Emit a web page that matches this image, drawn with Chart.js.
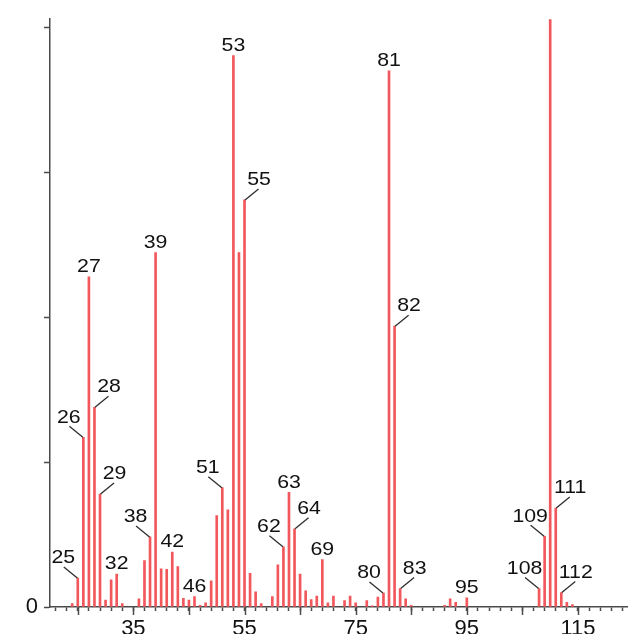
<!DOCTYPE html>
<html>
<head>
<meta charset="utf-8">
<script src="https://cdn.jsdelivr.net/npm/chart.js@4/dist/chart.umd.min.js"></script>
<style>
  html, body { margin: 0; padding: 0; background: #fff; }
  #wrap { width: 628px; height: 634px; position: relative; }
</style>
</head>
<body>
<div id="wrap"><canvas id="spectrum"></canvas></div>
<script>
// m/z positions and relative intensities
const mzValues = [24, 25, 26, 27, 28, 29, 30, 31, 32, 33, 36, 37, 38, 39, 40, 41, 42, 43, 44, 45, 46, 47, 48,
  49, 50, 51, 52, 53, 54, 55, 56, 57, 58, 60, 61, 62, 63, 64, 65, 66, 67, 68, 69, 70, 71, 73, 74, 75,
  77, 78, 79, 80, 81, 82, 83, 84, 85, 91, 92, 93, 95, 108, 109, 110, 111, 112, 113, 114];
const intensities = [0.6, 5.0, 29.3, 57.0, 34.5, 19.5, 1.2, 4.7, 5.7, 0.6, 1.4, 8.0, 12.1, 61.2, 6.6, 6.5, 9.5, 7.0, 1.5, 1.2, 1.8, 0.3, 0.7,
  4.5, 15.8, 20.6, 16.8, 95.2, 61.2, 70.3, 5.8, 2.6, 0.6, 1.8, 7.3, 10.4, 19.8, 13.5, 5.7, 2.8, 1.3, 1.9, 8.2, 0.7, 1.9, 1.1, 1.9, 0.7,
  1.1, 0.2, 1.7, 2.4, 92.6, 48.5, 3.2, 1.4, 0.3, 0.3, 1.4, 0.8, 1.6, 3.2, 12.2, 101.5, 17.1, 2.5, 0.8, 0.4];

// peaks that carry a label, and where the label sits
const labelsAbove = [27, 32, 39, 42, 46, 53, 63, 69, 81, 95];
const labelsLeft = [25, 26, 38, 51, 62, 80, 108, 109];
const labelsRight = [28, 29, 55, 64, 82, 83, 111, 112];

// axis ticks
const yTickValues = [0, 25, 50, 75, 100];
const xTickValues = [];
for (let v = 21; v <= 123; v += 2) xTickValues.push(v);
const xMajorTicks = [25, 35, 45, 55, 65, 75, 85, 95, 105, 115];
const xLabelled = [35, 55, 75, 95, 115];

const axisColor = "#4a4a4a";
const barColor = "#f2575c";
const fontFamily = '"Liberation Sans", Arial, Helvetica, sans-serif';

const points = mzValues.map((mz, i) => ({ x: mz, y: intensities[i] }));

// longer ticks every 10 units on the m/z axis
const majorTicks = {
  id: "majorTicks",
  afterDraw(chart) {
    const { ctx, scales: { x, y } } = chart;
    ctx.save();
    ctx.strokeStyle = axisColor;
    ctx.lineWidth = 1.5;
    xMajorTicks.forEach((v) => {
      const px = Math.round(x.getPixelForValue(v)) + 0.5;
      ctx.beginPath();
      ctx.moveTo(px, y.bottom);
      ctx.lineTo(px, y.bottom + 8);
      ctx.stroke();
    });
    ctx.restore();
  },
};

// peak labels with small leader lines
const peakLabels = {
  id: "peakLabels",
  afterDatasetsDraw(chart) {
    const { ctx, scales: { x, y } } = chart;
    ctx.save();
    ctx.font = "19px " + fontFamily;
    ctx.fillStyle = "#111";
    ctx.strokeStyle = "#2e2e2e";
    ctx.lineWidth = 1.3;
    ctx.textAlign = "center";
    ctx.textBaseline = "middle";
    mzValues.forEach((mz, i) => {
      let side = null;
      if (labelsAbove.includes(mz)) side = 0;
      else if (labelsLeft.includes(mz)) side = -1;
      else if (labelsRight.includes(mz)) side = 1;
      if (side === null) return;
      const px = x.getPixelForValue(mz);
      const py = y.getPixelForValue(intensities[i]);
      let tx = px;
      let ty = py - 10;
      if (side !== 0) {
        ctx.beginPath();
        ctx.moveTo(px + side * 0.5, py);
        ctx.lineTo(px + side * 14, py - 11);
        ctx.stroke();
        tx = px + side * 14.5;
        ty = py - 20;
      }
      ctx.save();
      ctx.translate(tx, ty);
      ctx.scale(1.12, 1);
      ctx.fillText(String(mz), 0, 0);
      ctx.restore();
    });
    ctx.restore();
  },
};

const ctx = document.getElementById("spectrum").getContext("2d");
new Chart(ctx, {
  type: "bar",
  data: {
    datasets: [
      {
        data: points,
        backgroundColor: barColor,
        borderWidth: 0,
        barThickness: 2,
      },
    ],
  },
  options: {
    responsive: true,
    maintainAspectRatio: false,
    animation: false,
    layout: { padding: { top: 16, right: 0, left: 0, bottom: 0 } },
    plugins: {
      legend: { display: false },
      tooltip: { enabled: false },
    },
    scales: {
      x: {
        type: "linear",
        min: 20,
        max: 124,
        offset: false,
        afterBuildTicks: (scale) => {
          scale.ticks = xTickValues.map((v) => ({ value: v }));
        },
        afterFit: (scale) => {
          scale.height = 27;
        },
        border: { display: true, color: axisColor, width: 1.5 },
        grid: {
          offset: false,
          drawOnChartArea: false,
          drawTicks: true,
          tickLength: 4,
          tickColor: axisColor,
          tickWidth: 1.5,
        },
        ticks: {
          autoSkip: false,
          maxRotation: 0,
          padding: 5,
          color: "#111",
          font: { family: fontFamily, size: 22 },
          callback: (v) => (xLabelled.includes(v) ? String(v) : ""),
        },
      },
      y: {
        min: 0,
        max: 101.5,
        afterBuildTicks: (scale) => {
          scale.ticks = yTickValues.map((v) => ({ value: v }));
        },
        afterFit: (scale) => {
          scale.width = 50;
        },
        border: { display: true, color: axisColor, width: 1.5 },
        grid: {
          drawOnChartArea: false,
          tickLength: 6,
          tickColor: axisColor,
          tickWidth: 1.5,
        },
        ticks: {
          padding: 6,
          color: "#111",
          font: { family: fontFamily, size: 22 },
          callback: (v) => (v === 0 ? "0" : ""),
        },
      },
    },
  },
  plugins: [majorTicks, peakLabels],
});
</script>
</body>
</html>
